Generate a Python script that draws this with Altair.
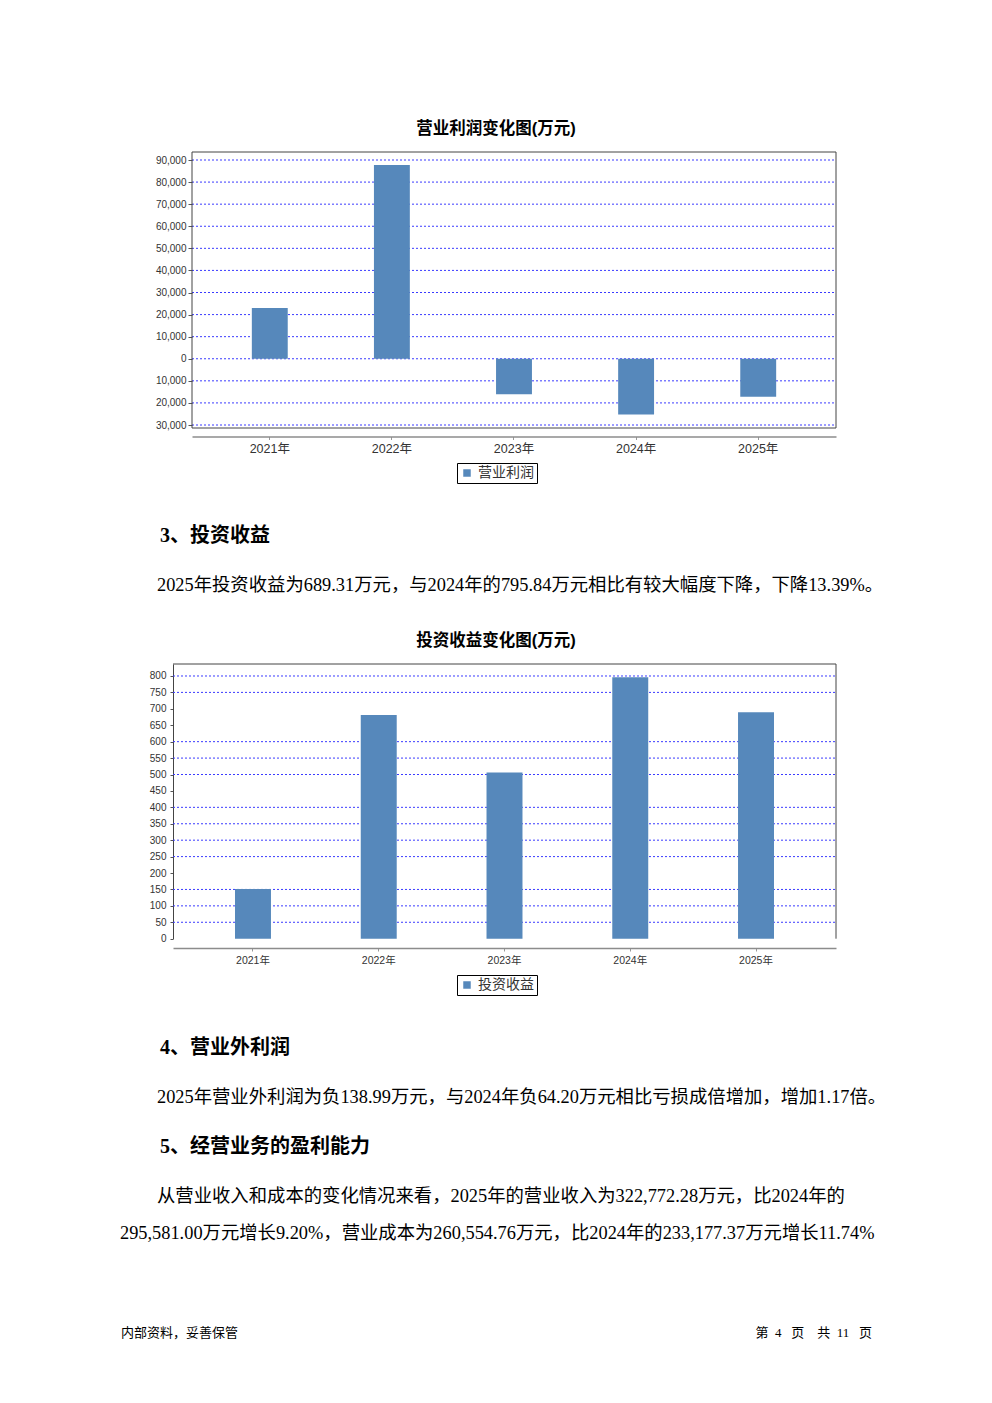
import altair as alt
import pandas as pd

# ---------------- data ----------------
years = ["2021年", "2022年", "2023年", "2024年", "2025年"]
op_profit = [23000, 87700, -16100, -25200, -17200]          # 营业利润 (万元)
inv_income = [151, 681, 506, 795.84, 689.31]                 # 投资收益 (万元)
op_ticks = [-30000, -20000, -10000, 0, 10000, 20000, 30000, 40000, 50000,
            60000, 70000, 80000, 90000]
inv_ticks = [0, 50, 100, 150, 200, 250, 300, 350, 400, 450, 500, 550, 600,
             650, 700, 750, 800]
inv_grid = [50, 100, 150, 250, 300, 350, 400, 500, 550, 600, 750, 800]
op_series = ["营业利润"]
inv_series = ["投资收益"]

titles = ["营业利润变化图(万元)", "投资收益变化图(万元)"]
headings = ["3、投资收益", "4、营业外利润", "5、经营业务的盈利能力"]
paragraphs = [
    "2025年投资收益为689.31万元，与2024年的795.84万元相比有较大幅度下降，下降13.39%。",
    "2025年营业外利润为负138.99万元，与2024年负64.20万元相比亏损成倍增加，增加1.17倍。",
    "从营业收入和成本的变化情况来看，2025年的营业收入为322,772.28万元，比2024年的",
    "295,581.00万元增长9.20%，营业成本为260,554.76万元，比2024年的233,177.37万元增长11.74%",
]
NB = "\u00a0"
footer = ["内部资料，妥善保管",
          "第" + NB * 2 + "4" + NB * 3 + "页" + NB * 4 + "共" + NB * 2 + "11" + NB * 3 + "页"]

BLUE = "#5688bb"
GRID = "#3b3bff"
FRAME = "#444444"
W, H = 976, 1387
OFF = 8  # page margin
CJK = "Noto Sans CJK SC"
SERIF_CJK = "Liberation Serif, Noto Sans CJK SC"
SANS_CJK = "Liberation Sans, Noto Sans CJK SC"

df1 = pd.DataFrame({"year": years, "value": op_profit, "series": op_series * len(years)})
df2 = pd.DataFrame({"year": years, "value": inv_income, "series": inv_series * len(years)})
g1 = pd.DataFrame({"v": op_ticks})
g2 = pd.DataFrame({"v": inv_grid})
one = pd.DataFrame({"a": [0]})


def px(v):
    return v - OFF


# ---------------- chart 1: 营业利润 ----------------
y1_scale = alt.Scale(domain=[-31358, 93623], range=[px(428), px(152)], nice=False, zero=False)
x1_scale = alt.Scale(range=[px(192), px(836)], paddingInner=0.706, paddingOuter=0.49)
y1_axis = alt.Axis(orient="left", offset=-px(192), values=op_ticks,
                   labelExpr="format(abs(datum.value), ',')",
                   labelFont="Liberation Sans", labelFontSize=10, labelColor="#333",
                   tickSize=4, tickColor="#555", labelPadding=2,
                   domain=False, grid=False)

grid1 = alt.Chart(g1).mark_rule(color=GRID, strokeDash=[2, 2], strokeWidth=1).encode(
    y=alt.Y("v:Q", scale=y1_scale, axis=y1_axis, title=None),
    x=alt.value(px(192)), x2=alt.value(px(836)),
)
bars1 = alt.Chart(df1).mark_bar().encode(
    x=alt.X("year:N", sort=years, scale=x1_scale, title=None,
            axis=alt.Axis(orient="bottom", offset=px(436.5) - H, labelAngle=0,
                          labelFont=SANS_CJK, labelFontSize=12.5, labelColor="#333",
                          labelPadding=3, tickSize=3, tickColor="#999",
                          domainColor="#8c8c8c", domainWidth=1.5, grid=False)),
    y=alt.Y("value:Q", scale=y1_scale, title=None, axis=y1_axis),
    color=alt.Color("series:N", scale=alt.Scale(domain=op_series, range=[BLUE]),
                    legend=alt.Legend(orient="none", legendX=px(457), legendY=px(463),
                                      title=None, direction="horizontal",
                                      strokeColor="#000", fillColor="#fff", padding=3,
                                      symbolType="square", symbolSize=56,
                                      symbolStrokeWidth=0, labelFont=CJK,
                                      labelFontSize=14, labelColor="#333", labelOffset=4)),
)
chart1 = alt.layer(grid1, bars1)

frame1 = alt.Chart(one).mark_rect(fillOpacity=0, stroke=FRAME, strokeWidth=1).encode(
    x=alt.value(px(192)), x2=alt.value(px(836)), y=alt.value(px(152)), y2=alt.value(px(428))
)

# ---------------- chart 2: 投资收益 ----------------
y2_scale = alt.Scale(domain=[0, 836.5], range=[px(938.7), px(664)], nice=False, zero=False)
x2_scale = alt.Scale(range=[px(173), px(836)], paddingInner=0.714, paddingOuter=0.493)
y2_axis = alt.Axis(orient="left", offset=-px(173), values=inv_ticks, format="d",
                   labelFont="Liberation Sans", labelFontSize=10, labelColor="#333",
                   tickSize=3, tickColor="#555", labelPadding=4,
                   domain=True, domainColor=FRAME, grid=False)

grid2 = alt.Chart(g2).mark_rule(color=GRID, strokeDash=[2, 2], strokeWidth=1).encode(
    y=alt.Y("v:Q", scale=y2_scale, axis=y2_axis, title=None),
    x=alt.value(px(173)), x2=alt.value(px(836)),
)
bars2 = alt.Chart(df2).mark_bar().encode(
    x=alt.X("year:N", sort=years, scale=x2_scale, title=None,
            axis=alt.Axis(orient="bottom", offset=px(948) - H, labelAngle=0,
                          labelFont=SANS_CJK, labelFontSize=10.5, labelColor="#333",
                          labelPadding=4, tickSize=3, tickColor="#999",
                          domainColor="#8c8c8c", domainWidth=1.5, grid=False)),
    y=alt.Y("value:Q", scale=y2_scale, title=None, axis=y2_axis),
    color=alt.Color("series:N", scale=alt.Scale(domain=inv_series, range=[BLUE]),
                    legend=alt.Legend(orient="none", legendX=px(457), legendY=px(975),
                                      title=None, direction="horizontal",
                                      strokeColor="#000", fillColor="#fff", padding=3,
                                      symbolType="square", symbolSize=56,
                                      symbolStrokeWidth=0, labelFont=CJK,
                                      labelFontSize=14, labelColor="#333", labelOffset=4)),
)
chart2 = alt.layer(grid2, bars2)

frame2_top = alt.Chart(one).mark_rule(color=FRAME, strokeWidth=1).encode(
    x=alt.value(px(173)), x2=alt.value(px(836)), y=alt.value(px(664))
)
frame2_right = alt.Chart(one).mark_rule(color=FRAME, strokeWidth=1).encode(
    x=alt.value(px(836)), y=alt.value(px(664)), y2=alt.value(px(938.7))
)


# ---------------- document text ----------------
def txt(s, x, y, size, bold=False, font=SERIF_CJK, align="left", color="#000"):
    return alt.Chart(pd.DataFrame({"t": [s]})).mark_text(
        align=align, baseline="middle", fontSize=size,
        fontWeight="bold" if bold else "normal", font=font, color=color,
    ).encode(x=alt.value(px(x)), y=alt.value(px(y)), text="t:N")


BODY = 18.35
texts = [
    txt(titles[0], 496, 129, 16.5, bold=True, font=SANS_CJK, align="center"),
    txt(titles[1], 496, 641, 16.5, bold=True, font=SANS_CJK, align="center"),
    txt(headings[0], 160, 536, 20, bold=True),
    txt(paragraphs[0], 157, 585, BODY),
    txt(headings[1], 160, 1048, 20, bold=True),
    txt(paragraphs[1], 157, 1097, BODY),
    txt(headings[2], 160, 1147, 20, bold=True),
    txt(paragraphs[2], 157, 1196, BODY),
    txt(paragraphs[3], 120, 1233, BODY),
    txt(footer[0], 121, 1333, 13),
    txt(footer[1], 872, 1333, 13, align="right"),
]

chart = alt.layer(
    chart1, frame1, chart2, frame2_top, frame2_right, *texts
).resolve_scale(
    x="independent", y="independent", color="independent"
).properties(
    width=W, height=H, padding=0, autosize=alt.AutoSizeParams(type="none")
).configure_view(stroke="transparent")

chart.save("out.html", embed_options={"renderer": "svg", "actions": False})
